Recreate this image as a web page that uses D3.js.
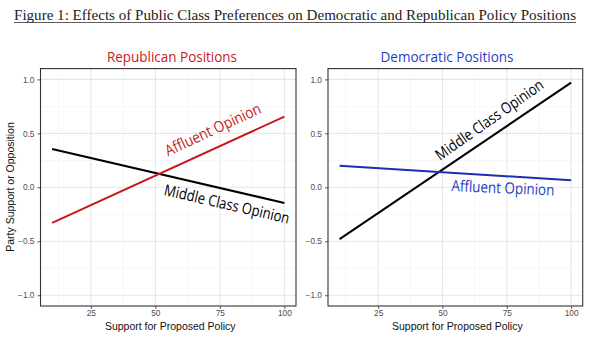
<!DOCTYPE html>
<html>
<head>
<meta charset="utf-8">
<script src="https://cdn.jsdelivr.net/npm/d3@7"></script>
<style>
html,body{margin:0;padding:0;background:#fff;}
svg{display:block;}
</style>
</head>
<body>
<svg id="chart" width="600" height="345"></svg>
<script>
// ---- data ----
const xVals = [10, 100];
const repMiddle = [0.355, -0.145];
const repAffluent = [-0.33, 0.655];
const demMiddle = [-0.48, 0.97];
const demAffluent = [0.20, 0.065];
const xTicks = [25, 50, 75, 100];
const xMinor = [12.5, 37.5, 62.5, 87.5];
const yTicks = [1.0, 0.5, 0.0, -0.5, -1.0];
const yMinor = [0.75, 0.25, -0.25, -0.75];
const panelTitles = ["Republican Positions", "Democratic Positions"];
const figTitle = "Figure 1: Effects of Public Class Preferences on Democratic and Republican Policy Positions";

const svg = d3.select("#chart");
const RED = "#c8161d", BLUE = "#1b2fb3", TBLUE = "#1f3fbf", TRED = "#c41a1a";

// Title
svg.append("text").attr("x", 14).attr("y", 19.5)
  .attr("font-family", "Liberation Serif, DejaVu Serif, serif").attr("font-size", 15)
  .attr("textLength", 562).attr("lengthAdjust", "spacingAndGlyphs")
  .attr("fill", "#222").text(figTitle);
svg.append("line").attr("x1", 14).attr("x2", 576).attr("y1", 22.5).attr("y2", 22.5)
  .attr("stroke", "#333").attr("stroke-width", 0.8);

function panel(cfg) {
  const x = d3.scaleLinear().domain([5.5, 104.5]).range([cfg.left, cfg.right]);
  const y = d3.scaleLinear().domain([-1.1, 1.1]).range([306, 68.6]);
  const g = svg.append("g");
  // minor grid
  g.selectAll(".mx").data(xMinor).join("line")
    .attr("x1", d => x(d)).attr("x2", d => x(d)).attr("y1", y(-1.1)).attr("y2", y(1.1))
    .attr("stroke", "#f2f2f2").attr("stroke-width", 0.6);
  g.selectAll(".my").data(yMinor).join("line")
    .attr("y1", d => y(d)).attr("y2", d => y(d)).attr("x1", cfg.left).attr("x2", cfg.right)
    .attr("stroke", "#f2f2f2").attr("stroke-width", 0.6);
  // major grid
  g.selectAll(".Mx").data(xTicks).join("line")
    .attr("x1", d => x(d)).attr("x2", d => x(d)).attr("y1", y(-1.1)).attr("y2", y(1.1))
    .attr("stroke", "#e6e6e6").attr("stroke-width", 1.1);
  g.selectAll(".My").data(yTicks).join("line")
    .attr("y1", d => y(d)).attr("y2", d => y(d)).attr("x1", cfg.left).attr("x2", cfg.right)
    .attr("stroke", "#e6e6e6").attr("stroke-width", 1.1);

  // axes
  const xa = g.append("g").attr("transform", `translate(0,306)`)
    .call(d3.axisBottom(x).tickValues(xTicks).tickSize(3).tickPadding(1.5).tickFormat(d3.format("d")));
  const ya = g.append("g").attr("transform", `translate(${cfg.left},0)`)
    .call(d3.axisLeft(y).tickValues(yTicks).tickSize(3).tickPadding(3)
      .tickFormat(d => d3.format(".1f")(d).replace("-", "\u2212")));
  [xa, ya].forEach(a => {
    a.select(".domain").remove();
    a.selectAll(".tick line").attr("stroke", "#333").attr("stroke-width", 0.8);
    a.selectAll(".tick text").attr("fill", "#4d4d4d").attr("font-size", 8.3)
      .attr("font-family", "Liberation Sans, Arial, sans-serif");
  });

  // lines
  const line = d3.line().x((d, i) => x(xVals[i])).y(d => y(d));
  cfg.series.forEach(s => {
    g.append("path").datum(s.values).attr("d", line)
      .attr("fill", "none").attr("stroke", s.color).attr("stroke-width", 2);
  });

  // border
  g.append("rect").attr("x", cfg.left).attr("y", y(1.1))
    .attr("width", cfg.right - cfg.left).attr("height", y(-1.1) - y(1.1))
    .attr("fill", "none").attr("stroke", "#333").attr("stroke-width", 1.1);

  // annotations
  cfg.labels.forEach(l => {
    const px = x(l.x), py = y(l.y);
    g.append("text").attr("x", px).attr("y", py)
      .attr("transform", `rotate(${l.angle},${px},${py})`)
      .attr("text-anchor", "middle").attr("dominant-baseline", "central")
      .attr("font-family", "Open Sans, Noto Sans, sans-serif").attr("font-size", 15.5)
      .attr("textLength", l.len).attr("lengthAdjust", "spacingAndGlyphs")
      .attr("fill", l.color).text(l.text);
  });

  // panel title
  svg.append("text").attr("x", cfg.titleX).attr("y", 62)
    .attr("text-anchor", "middle")
    .attr("font-family", "Open Sans, Noto Sans, sans-serif").attr("font-size", 15)
    .attr("textLength", cfg.titleLen).attr("lengthAdjust", "spacingAndGlyphs")
    .attr("fill", cfg.titleColor).text(cfg.title);

  // x axis title
  svg.append("text").attr("x", (cfg.left + cfg.right) / 2 + 2).attr("y", 330)
    .attr("text-anchor", "middle")
    .attr("font-family", "Liberation Sans, Arial, sans-serif").attr("font-size", 10.5)
    .attr("fill", "#111").text("Support for Proposed Policy");
  return {x, y};
}

panel({
  left: 40.5, right: 296, title: panelTitles[0], titleX: 172, titleLen: 130, titleColor: TRED,
  series: [{values: repMiddle, color: "#000"}, {values: repAffluent, color: RED}],
  labels: [
    {text: "Affluent Opinion", x: 72.2, y: 0.54, angle: -25, len: 104, color: TRED},
    {text: "Middle Class Opinion", x: 77.8, y: -0.15, angle: 13, len: 128, color: "#000"}
  ]
});
panel({
  left: 328, right: 582.7, title: panelTitles[1], titleX: 447, titleLen: 133, titleColor: TBLUE,
  series: [{values: demMiddle, color: "#000"}, {values: demAffluent, color: BLUE}],
  labels: [
    {text: "Middle Class Opinion", x: 68.1, y: 0.63, angle: -35, len: 128, color: "#000"},
    {text: "Affluent Opinion", x: 73.5, y: 0.0, angle: 2.5, len: 103, color: TBLUE}
  ]
});

// y axis title
svg.append("text").attr("transform", "translate(14,187) rotate(-90)")
  .attr("text-anchor", "middle")
  .attr("font-family", "Liberation Sans, Arial, sans-serif").attr("font-size", 10.5)
  .attr("fill", "#111").text("Party Support or Opposition");
</script>
</body>
</html>
